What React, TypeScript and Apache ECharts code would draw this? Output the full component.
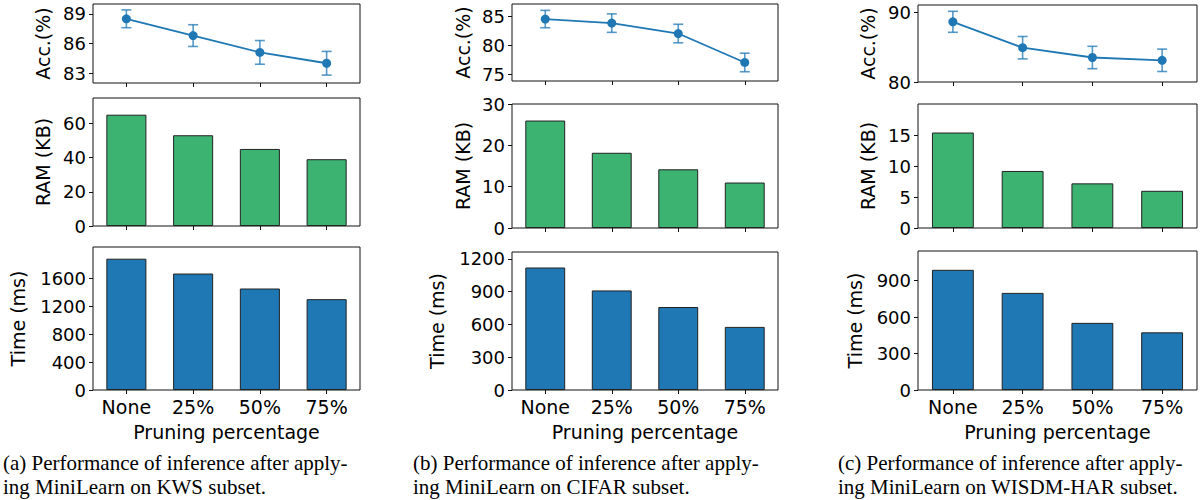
import React, { useEffect, useRef } from "react";
import * as echarts from "echarts";

// ---------- data ----------
const categories = ["None", "25%", "50%", "75%"];

const kwsAcc = [88.5, 86.8, 85.1, 84.0];
const kwsAccErr = [0.9, 1.1, 1.2, 1.2];
const kwsRam = [65, 53, 45, 39];
const kwsTime = [1885, 1672, 1457, 1304];

const cifarAcc = [84.6, 83.9, 82.1, 77.1];
const cifarAccErr = [1.5, 1.6, 1.6, 1.6];
const cifarRam = [26, 18.2, 14.2, 11];
const cifarTime = [1122, 912, 760, 578];

const wisdmAcc = [88.6, 84.9, 83.5, 83.1];
const wisdmAccErr = [1.5, 1.6, 1.6, 1.6];
const wisdmRam = [15.4, 9.2, 7.2, 6.0];
const wisdmTime = [990, 800, 553, 475];

const kwsAccTicks = [83, 86, 89];
const kwsRamTicks = [0, 20, 40, 60];
const kwsTimeTicks = [0, 400, 800, 1200, 1600];
const cifarAccTicks = [75, 80, 85];
const cifarRamTicks = [0, 10, 20, 30];
const cifarTimeTicks = [0, 300, 600, 900, 1200];
const wisdmAccTicks = [80, 90];
const wisdmRamTicks = [0, 5, 10, 15];
const wisdmTimeTicks = [0, 300, 600, 900];

const captions = [
  ["(a) Performance of inference after apply-", "ing MiniLearn on KWS subset."],
  ["(b) Performance of inference after apply-", "ing MiniLearn on CIFAR subset."],
  ["(c) Performance of inference after apply-", "ing MiniLearn on WISDM-HAR subset."],
];

const accName = "Acc.(%)";
const ramName = "RAM (KB)";
const timeName = "Time (ms)";
const xName = "Pruning percentage";

// ---------- layout ----------
const panels = [
  {
    acc: kwsAcc, err: kwsAccErr, ram: kwsRam, time: kwsTime,
    accTicks: kwsAccTicks, ramTicks: kwsRamTicks, timeTicks: kwsTimeTicks,
    accRange: [82, 90], ramRange: [0, 74.75], timeRange: [0, 2053],
    left: 93, width: 267,
    rows: [[4, 79], [98, 128], [247, 143]],
    accLabelX: 43, timeLabelX: 18, captionX: 3,
  },
  {
    acc: cifarAcc, err: cifarAccErr, ram: cifarRam, time: cifarTime,
    accTicks: cifarAccTicks, ramTicks: cifarRamTicks, timeTicks: cifarTimeTicks,
    accRange: [73.9, 87.2], ramRange: [0, 30], timeRange: [0, 1264],
    left: 512, width: 266,
    rows: [[4, 77], [104, 124], [252, 138]],
    accLabelX: 463, timeLabelX: 437, captionX: 413,
  },
  {
    acc: wisdmAcc, err: wisdmAccErr, ram: wisdmRam, time: wisdmTime,
    accTicks: wisdmAccTicks, ramTicks: wisdmRamTicks, timeTicks: wisdmTimeTicks,
    accRange: [80, 91], ramRange: [0, 20], timeRange: [0, 1145],
    left: 918, width: 279,
    rows: [[5, 77], [104, 124], [251, 139]],
    accLabelX: 868, timeLabelX: 855, captionX: 838,
  },
];

const FONT = "DejaVu Sans";
const BLUE = "#1f77b4";
const GREEN = "#3cb371";

function buildOption() {
  const grid: any[] = [];
  const xAxis: any[] = [];
  const yAxis: any[] = [];
  const series: any[] = [];
  const graphic: any[] = [];

  panels.forEach((p, k) => {
    const ranges = [p.accRange, p.ramRange, p.timeRange];
    const ticks = [p.accTicks, p.ramTicks, p.timeTicks];
    const names = [accName, ramName, timeName];
    p.rows.forEach(([top, height], r) => {
      const gi = k * 3 + r;
      grid.push({
        left: p.left, top, width: p.width, height,
        show: true, borderColor: "#111", borderWidth: 1, backgroundColor: "transparent",
      });
      xAxis.push({
        type: "category", gridIndex: gi, data: categories, boundaryGap: true,
        axisLine: { show: false },
        axisTick: { show: true, alignWithLabel: true, length: 4, lineStyle: { color: "#111" } },
        axisLabel: { show: r === 2, fontSize: 19, color: "#000", margin: 7, fontFamily: FONT },
        splitLine: { show: false },
        name: r === 2 ? xName : "",
        nameLocation: "middle", nameGap: 32,
        nameTextStyle: { fontSize: 19, color: "#000", fontFamily: FONT },
      });
      yAxis.push({
        type: "value", gridIndex: gi, min: ranges[r][0], max: ranges[r][1],
        axisLine: { show: false },
        axisTick: { show: true, length: 4, customValues: ticks[r], lineStyle: { color: "#111" } },
        axisLabel: {
          customValues: ticks[r], fontSize: 18, color: "#000", margin: 7, fontFamily: FONT,
          formatter: (v: number) => String(v),
        },
        splitLine: { show: false },
      });
      const labelX = r === 2 ? p.timeLabelX : p.accLabelX;
      graphic.push({
        type: "text", x: labelX, y: top + height / 2, rotation: Math.PI / 2,
        style: {
          text: names[r], fontSize: 19, fontFamily: FONT, fill: "#000",
          textAlign: "center", textVerticalAlign: "middle",
        },
      });
    });

    const g0 = k * 3;
    series.push({
      type: "custom", xAxisIndex: g0, yAxisIndex: g0, z: 2,
      data: p.acc.map((v, i) => [i, v - p.err[i], v + p.err[i]]),
      encode: { x: 0, y: [1, 2] },
      renderItem: (params: any, api: any) => {
        const x = api.value(0);
        const lo = api.coord([x, api.value(1)]);
        const hi = api.coord([x, api.value(2)]);
        const w = 5;
        const st = { stroke: "rgba(31,119,180,0.75)", lineWidth: 1.6 };
        return {
          type: "group",
          children: [
            { type: "line", shape: { x1: lo[0], y1: lo[1], x2: hi[0], y2: hi[1] }, style: st },
            { type: "line", shape: { x1: hi[0] - w, y1: hi[1], x2: hi[0] + w, y2: hi[1] }, style: st },
            { type: "line", shape: { x1: lo[0] - w, y1: lo[1], x2: lo[0] + w, y2: lo[1] }, style: st },
          ],
        };
      },
    });
    series.push({
      type: "line", xAxisIndex: g0, yAxisIndex: g0, data: p.acc, z: 3,
      symbol: "circle", symbolSize: 9, showSymbol: true,
      lineStyle: { color: BLUE, width: 1.8 }, itemStyle: { color: BLUE },
    });
    series.push({
      type: "bar", xAxisIndex: g0 + 1, yAxisIndex: g0 + 1, data: p.ram, barWidth: "60%",
      itemStyle: { color: GREEN, borderColor: "#222", borderWidth: 1 },
    });
    series.push({
      type: "bar", xAxisIndex: g0 + 2, yAxisIndex: g0 + 2, data: p.time, barWidth: "60%",
      itemStyle: { color: BLUE, borderColor: "#222", borderWidth: 1 },
    });

    captions[k].forEach((line, li) => {
      graphic.push({
        type: "text", x: p.captionX, y: 463 + li * 24,
        style: {
          text: line, fontSize: 21, fontFamily: "Liberation Serif", fill: "#000",
          textAlign: "left", textVerticalAlign: "middle",
        },
      });
    });
  });

  return {
    animation: false,
    backgroundColor: "#fff",
    textStyle: { fontFamily: FONT },
    grid, xAxis, yAxis, series, graphic,
  };
}

export default function App() {
  const ref = useRef<HTMLDivElement>(null);
  useEffect(() => {
    if (!ref.current) return;
    const chart = echarts.init(ref.current, null, { renderer: "svg" });
    chart.setOption(buildOption() as any);
    return () => chart.dispose();
  }, []);
  return (
    <div
      ref={ref}
      style={{ position: "fixed", left: 0, top: 0, width: 1203, height: 500 }}
    />
  );
}
